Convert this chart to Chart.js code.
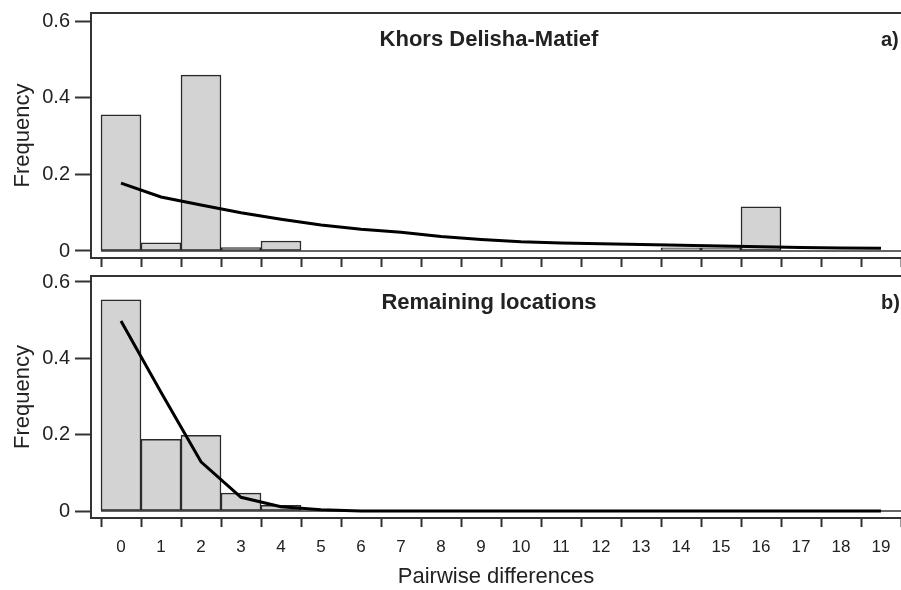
<!DOCTYPE html>
<html>
<head>
<meta charset="utf-8">
<script src="https://cdn.jsdelivr.net/npm/chart.js@4.4.1/dist/chart.umd.min.js"></script>
<style>
  body { margin: 0; background: #fff; overflow: hidden; }
  #wrap { position: relative; width: 901px; height: 590px; overflow: hidden; }
  canvas { position: absolute; left: 0; }
  #top { top: -20px; }
  #bottom { top: 250px; }
</style>
</head>
<body>
<div id="wrap">
  <!-- canvases run 10px past the right edge: the plot box is cut off there, as in the figure -->
  <canvas id="top" width="911" height="310"></canvas>
  <canvas id="bottom" width="911" height="340"></canvas>
</div>
<script>
// pairwise differences 0..19
const categories = [0, 1, 2, 3, 4, 5, 6, 7, 8, 9, 10, 11, 12, 13, 14, 15, 16, 17, 18, 19];

// a) Khors Delisha-Matief
const khorsObserved = [0.355, 0.021, 0.459, 0.009, 0.026, 0, 0, 0, 0, 0, 0, 0, 0, 0, 0.008, 0.008, 0.115, 0, 0, 0];
const khorsExpected = [0.177, 0.141, 0.120, 0.100, 0.083, 0.068, 0.057, 0.049, 0.038, 0.030, 0.024, 0.021, 0.019, 0.017, 0.015, 0.013, 0.011, 0.009, 0.008, 0.007];

// b) Remaining locations
const remainingObserved = [0.553, 0.188, 0.198, 0.047, 0.015, 0, 0, 0, 0, 0, 0, 0, 0, 0, 0, 0, 0, 0, 0, 0];
const remainingExpected = [0.498, 0.311, 0.129, 0.036, 0.011, 0.003, 0, 0, 0, 0, 0, 0, 0, 0, 0, 0, 0, 0, 0, 0];

const yTickValues = [0, 0.2, 0.4, 0.6];
// tick marks sit on bin edges, labels on bin centres
const xTickValues = [];
for (let i = 0; i <= categories.length * 2; i++) xTickValues.push(i * 0.5 - 0.5);

Chart.defaults.font.family = '"Liberation Sans", Arial, sans-serif';
Chart.defaults.color = '#222';

const framePlugin = {
  id: 'frame',
  beforeDatasetsDraw(chart) {
    const { ctx, chartArea: a, scales: { x, y } } = chart;
    ctx.save();
    ctx.strokeStyle = '#333';
    ctx.lineWidth = 2;
    ctx.strokeRect(a.left, a.top, a.right - a.left + 10, a.bottom - a.top);
    ctx.lineWidth = 1.5;
    ctx.beginPath();
    ctx.moveTo(x.getPixelForValue(-0.5), y.getPixelForValue(0));
    ctx.lineTo(x.getPixelForValue(categories.length - 0.5), y.getPixelForValue(0));
    ctx.stroke();
    ctx.restore();
  },
  afterDraw(chart, args, opts) {
    const { ctx, chartArea: a } = chart;
    ctx.save();
    ctx.fillStyle = '#222';
    ctx.textBaseline = 'middle';
    ctx.font = 'bold 22px "Liberation Sans", Arial, sans-serif';
    ctx.textAlign = 'center';
    ctx.fillText(opts.title, (a.left + a.right) / 2 - 7, a.top + 27);
    ctx.font = 'bold 20px "Liberation Sans", Arial, sans-serif';
    ctx.textAlign = 'left';
    ctx.fillText(opts.tag, a.right - 20, a.top + 27);
    ctx.restore();
  }
};

const isEdge = c => c.tick && !Number.isInteger(c.tick.value);

function makeChart(id, observed, expected, cfg) {
  return new Chart(document.getElementById(id), {
    type: 'bar',
    data: {
      datasets: [
        {
          type: 'line',
          data: categories.map((c, i) => ({ x: c, y: expected[i] })),
          borderColor: '#000',
          borderWidth: 3,
          pointRadius: 0,
          tension: 0,
          order: 0
        },
        {
          type: 'bar',
          data: categories.map((c, i) => ({ x: c, y: observed[i] })),
          backgroundColor: '#d3d3d3',
          borderColor: '#2a2a2a',
          borderWidth: 1.5,
          borderSkipped: false,
          barThickness: 40,
          order: 1
        }
      ]
    },
    options: {
      responsive: false,
      animation: false,
      layout: { padding: { top: cfg.padTop, left: 0, right: 0, bottom: 0 } },
      plugins: {
        legend: { display: false },
        tooltip: { enabled: false },
        frame: { title: cfg.title, tag: cfg.tag }
      },
      scales: {
        x: {
          type: 'linear',
          offset: false,
          min: -0.75,
          max: 19.5,
          afterBuildTicks: s => { s.ticks = xTickValues.map(v => ({ value: v })); },
          afterFit: s => { s.height = cfg.axisHeight; },
          grid: {
            offset: false,
            drawOnChartArea: false,
            tickLength: 9,
            tickWidth: 2,
            tickColor: c => isEdge(c) ? '#333' : 'rgba(0,0,0,0)'
          },
          border: { display: false },
          ticks: {
            autoSkip: false,
            maxRotation: 0,
            padding: 10,
            font: { size: 17 },
            callback: v => cfg.showLabels && Number.isInteger(v) ? String(v) : ''
          },
          title: {
            display: cfg.showLabels,
            text: 'Pairwise differences',
            font: { size: 22 },
            padding: { top: 0, bottom: 0 }
          }
        },
        y: {
          min: cfg.yMin,
          max: cfg.yMax,
          afterBuildTicks: s => { s.ticks = yTickValues.map(v => ({ value: v })); },
          afterFit: s => { s.width = 91; },
          grid: { drawOnChartArea: false, tickLength: 16, tickWidth: 2, tickColor: '#333' },
          border: { display: false },
          ticks: {
            padding: 5,
            font: { size: 20 },
            callback: v => v === 0 ? '0' : Number(v).toFixed(1)
          },
          title: {
            display: true,
            text: 'Frequency',
            font: { size: 22 },
            padding: { top: 10, bottom: 0 }
          }
        }
      }
    },
    plugins: [framePlugin]
  });
}

makeChart('top', khorsObserved, khorsExpected, {
  title: 'Khors Delisha-Matief', tag: 'a)', padTop: 33, axisHeight: 32,
  showLabels: false, yMin: -0.0183, yMax: 0.6209
});
makeChart('bottom', remainingObserved, remainingExpected, {
  title: 'Remaining locations', tag: 'b)', padTop: 26, axisHeight: 72,
  showLabels: true, yMin: -0.0183, yMax: 0.6157
});
</script>
</body>
</html>
